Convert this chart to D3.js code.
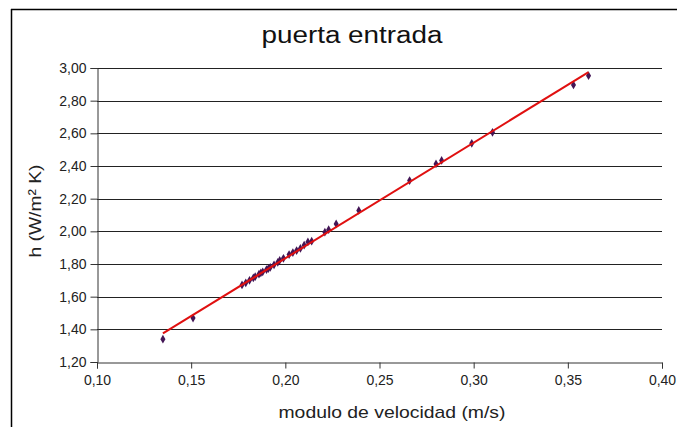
<!DOCTYPE html>
<html>
<head>
<meta charset="utf-8">
<script src="https://cdn.jsdelivr.net/npm/d3@7"></script>
<style>
  body { margin: 0; background: #fff; }
  svg { display: block; font-family: "Liberation Sans", Arial, sans-serif; }
</style>
</head>
<body>
<div id="chart"></div>
<script>
// puerta entrada - h vs modulo de velocidad

const CHART_TITLE = "puerta entrada";
const X_TITLE = "modulo de velocidad (m/s)";
const Y_TITLE = "h (W/m² K)";

const xTicks = [0.10, 0.15, 0.20, 0.25, 0.30, 0.35, 0.40];
const yTicks = [1.20, 1.40, 1.60, 1.80, 2.00, 2.20, 2.40, 2.60, 2.80, 3.00];

// measured points
const velocity = [0.135, 0.151, 0.177, 0.179, 0.181, 0.183, 0.184, 0.186, 0.187, 0.188,
  0.190, 0.191, 0.192, 0.194, 0.196, 0.197, 0.199, 0.202, 0.204, 0.206,
  0.208, 0.210, 0.212, 0.214, 0.221, 0.223, 0.227, 0.239, 0.266, 0.280,
  0.283, 0.299, 0.310, 0.353, 0.361];
const hValues = [1.34, 1.469, 1.672, 1.685, 1.700, 1.715, 1.722, 1.738, 1.745, 1.752,
  1.765, 1.772, 1.780, 1.795, 1.810, 1.822, 1.835, 1.858, 1.870, 1.882,
  1.895, 1.915, 1.935, 1.940, 1.995, 2.010, 2.045, 2.128, 2.311, 2.413,
  2.434, 2.539, 2.606, 2.896, 2.953];

// linear trend line endpoints
const trendX = [0.135, 0.361];
const trendY = [1.375, 2.975];

const fmt = v => d3.format(".2f")(v).replace(".", ",");

function createChart() {
    const W = 677, H = 427;
    const margin = { top: 68, right: 15, bottom: 65, left: 97 };
    const width = 662 - margin.left;
    const height = 362 - margin.top;

    const svg = d3.select('#chart')
        .append('svg')
        .attr('width', W)
        .attr('height', H);

    // outer frame (top and left edges)
    svg.append('line')
        .attr('x1', 11).attr('x2', W).attr('y1', 9.5).attr('y2', 9.5)
        .style('stroke', '#000').style('stroke-width', 1.5);
    svg.append('line')
        .attr('x1', 11.5).attr('x2', 11.5).attr('y1', 9).attr('y2', H)
        .style('stroke', '#000').style('stroke-width', 1.5);

    svg.append('text')
        .attr('x', 352)
        .attr('y', 43)
        .attr('text-anchor', 'middle')
        .attr('textLength', 181)
        .attr('lengthAdjust', 'spacingAndGlyphs')
        .style('font-size', '23px')
        .style('fill', '#111')
        .text(CHART_TITLE);

    const g = svg.append('g')
        .attr('transform', `translate(${margin.left},${margin.top})`);

    const xScale = d3.scaleLinear().domain([0.10, 0.40]).range([0, width]);
    const yScale = d3.scaleLinear().domain([1.20, 3.00]).range([height, 0]);

    // horizontal grid lines
    g.append('g')
        .selectAll('line')
        .data(yTicks.slice(1))
        .enter()
        .append('line')
        .attr('x1', 0).attr('x2', width)
        .attr('y1', d => Math.round(yScale(d)) + 0.5)
        .attr('y2', d => Math.round(yScale(d)) + 0.5)
        .style('stroke', '#222')
        .style('stroke-width', 1);

    // axes
    const xAxis = g.append('g')
        .attr('transform', `translate(0,${height + 0.5})`)
        .call(d3.axisBottom(xScale).tickValues(xTicks).tickFormat(fmt).tickSizeOuter(0).tickSize(6).tickPadding(7));
    const yAxis = g.append('g')
        .attr('transform', 'translate(0.5,0)')
        .call(d3.axisLeft(yScale).tickValues(yTicks).tickFormat(fmt).tickSizeOuter(0).tickSize(7).tickPadding(4));

    [xAxis, yAxis].forEach(ax => {
        ax.select('.domain').style('stroke', '#333');
        ax.selectAll('.tick line').style('stroke', '#333');
        ax.selectAll('.tick text')
            .style('font-size', '14px')
            .style('fill', '#222')
            .style('font-family', '"Liberation Sans", Arial, sans-serif');
    });

    // data points as small diamonds
    const pts = velocity.map((v, i) => ({ x: v, y: hValues[i] }));
    g.selectAll('.pt')
        .data(pts)
        .enter()
        .append('path')
        .attr('class', 'pt')
        .attr('d', d3.symbol().type(d3.symbolDiamond).size(22))
        .attr('transform', d => `translate(${xScale(d.x)},${yScale(d.y)})`)
        .style('fill', '#431656');

    // trend line
    const line = d3.line()
        .x(d => xScale(d[0]))
        .y(d => yScale(d[1]));
    g.append('path')
        .datum(trendX.map((x, i) => [x, trendY[i]]))
        .attr('d', line)
        .style('fill', 'none')
        .style('stroke', '#e01010')
        .style('stroke-width', 2);

    // axis titles
    svg.append('text')
        .attr('x', 392)
        .attr('y', 418)
        .attr('text-anchor', 'middle')
        .attr('textLength', 227)
        .attr('lengthAdjust', 'spacingAndGlyphs')
        .style('font-size', '17px')
        .style('fill', '#222')
        .text(X_TITLE);

    svg.append('text')
        .attr('transform', 'rotate(-90)')
        .attr('x', -211)
        .attr('y', 41)
        .attr('text-anchor', 'middle')
        .attr('textLength', 93)
        .attr('lengthAdjust', 'spacingAndGlyphs')
        .style('font-size', '17px')
        .style('fill', '#222')
        .text(Y_TITLE);
}

createChart();
</script>
</body>
</html>
